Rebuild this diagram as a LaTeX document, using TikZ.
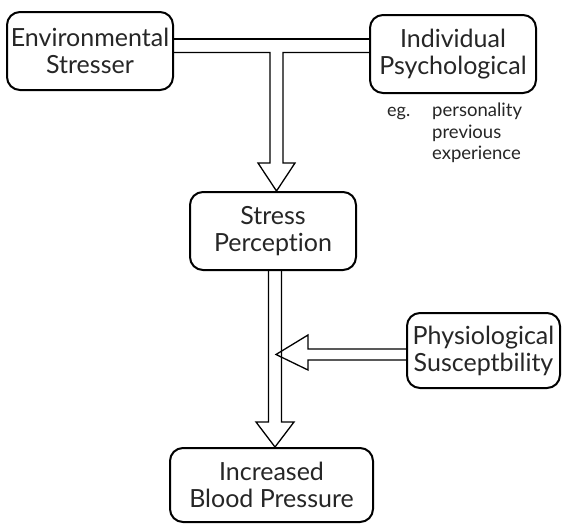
\documentclass[tikz,border=0pt]{standalone}
\usepackage{fontspec}
\setmainfont[Ligatures={NoCommon}]{Lato}
\begin{document}
\begin{tikzpicture}[x=1pt,y=-1pt,
  box/.style={draw=black,line width=2pt,rounded corners=13pt,inner sep=0pt,align=center,
    font=\fontsize{25}{27}\selectfont\color{black!85}},
  arr/.style={draw=black,line width=1.3pt,line join=miter}]
\useasboundingbox (0,0) rectangle (568,525);
\fill[white] (0,0) rectangle (568,525);
\node[box,minimum width=166pt,minimum height=78pt] (env) at (90,51) {Environmental\\Stresser};
\node[box,minimum width=166pt,minimum height=78pt] (ind) at (453,54) {Individual\\Psychological};
\node[box,minimum width=166pt,minimum height=78pt] (sp) at (273,231) {Stress\\Perception};
\node[box,minimum width=153pt,minimum height=75pt] (phy) at (483.5,350.5) {Physiological\\Susceptbility};
\node[box,minimum width=203pt,minimum height=74pt] (bp) at (271.5,485) {Increased\\Blood Pressure};
\node[anchor=base west,inner sep=0pt,font=\fontsize{18}{21}\selectfont\color{black!85}] (eg) at (387,116) {eg.};
\node[anchor=north west,inner sep=0pt,align=left,font=\fontsize{18.5}{21.5}\selectfont\color{black!85}] (ex) at (432,103) {personality\\previous\\experience};
% T-shaped hollow arrow
\coordinate (c1) at (276.5,0);
\draw[arr] (env.east |- 0,39) -- (ind.west |- 0,39);
\draw[arr] (env.east |- 0,52.5) -- ([xshift=-6.5pt]c1 |- 0,52.5) -- ([xshift=-6.5pt]c1 |- 0,163)
  -- ([xshift=-18.5pt]c1 |- 0,163) -- (c1 |- sp.north) -- ([xshift=18.5pt]c1 |- 0,163)
  -- ([xshift=6.5pt]c1 |- 0,163) -- ([xshift=6.5pt]c1 |- 0,52.5) -- (ind.west |- 0,52.5);
% vertical hollow arrow
\coordinate (c2) at (275,0);
\draw[arr] ([xshift=-6.5pt]c2 |- sp.south) -- ([xshift=-6.5pt]c2 |- 0,422)
  -- ([xshift=-19pt]c2 |- 0,422) -- (c2 |- bp.north) -- ([xshift=19pt]c2 |- 0,422)
  -- ([xshift=6.5pt]c2 |- 0,422) -- ([xshift=6.5pt]c2 |- sp.south);
% horizontal hollow arrow
\draw[arr] (phy.west |- 0,349) -- (308,349) -- (308,335) -- ([xshift=1pt]c2 |- 0,354.5)
  -- (308,370) -- (308,360) -- (phy.west |- 0,360);
\end{tikzpicture}
\end{document}
